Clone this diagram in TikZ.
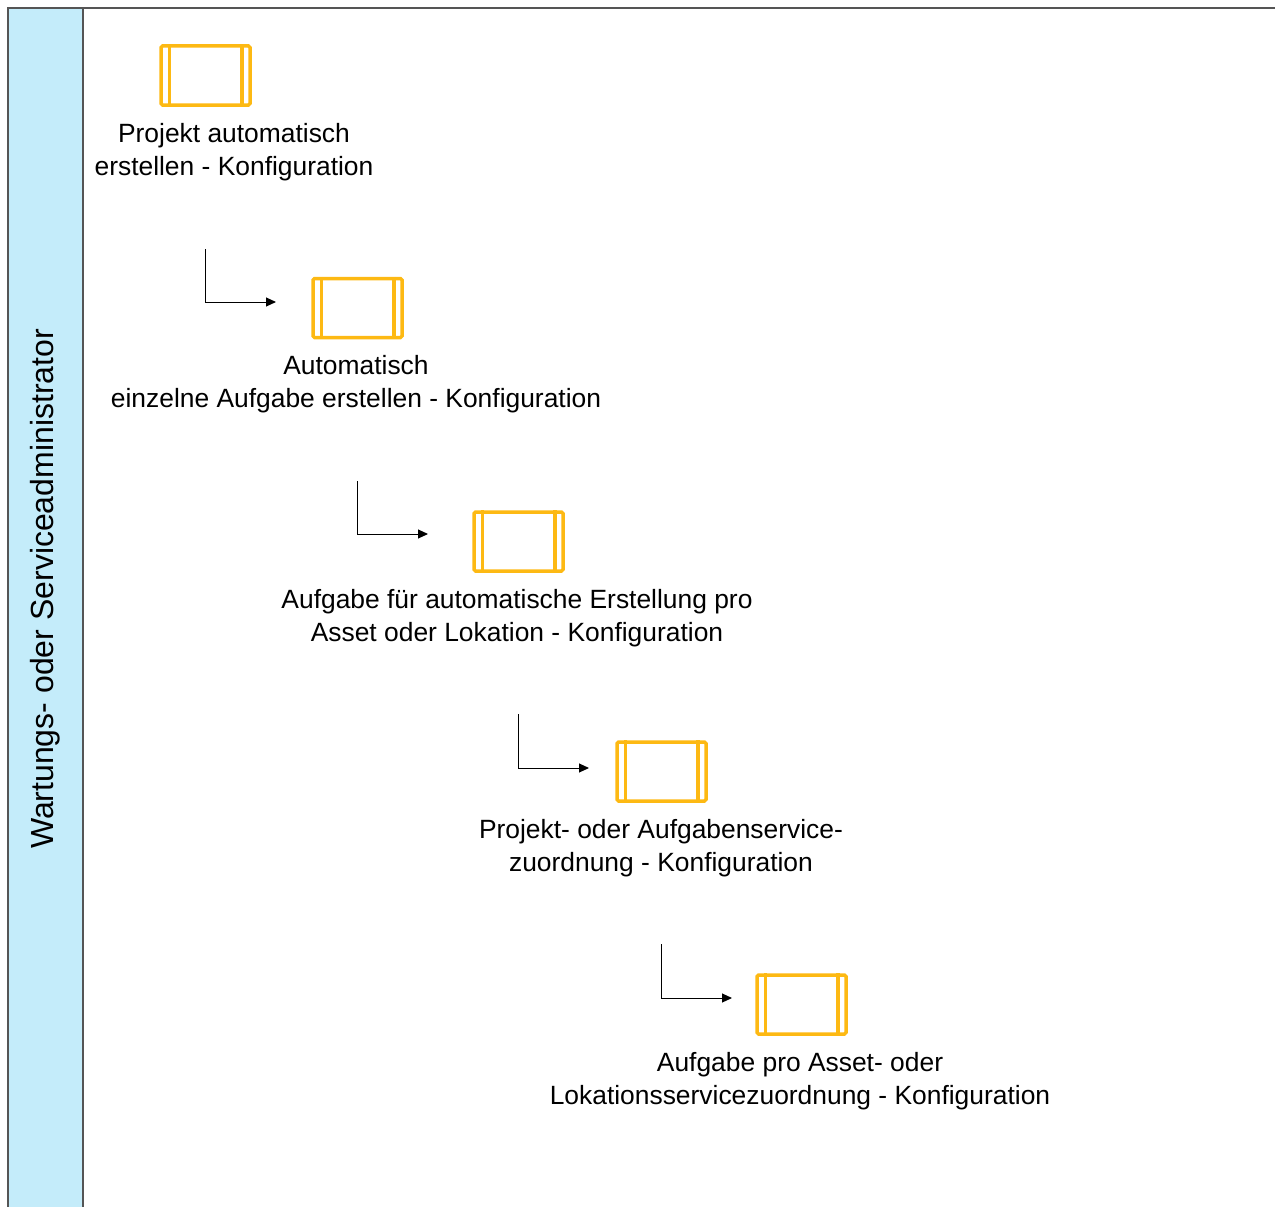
\documentclass[tikz,border=0pt]{standalone}
\usepackage{fontspec}
\setmainfont{Liberation Sans}
\usetikzlibrary{arrows.meta}
\definecolor{lanefill}{RGB}{196,236,250}
\definecolor{laneline}{RGB}{85,85,85}
\definecolor{taskorange}{RGB}{253,185,19}
\tikzset{
  taskbox/.style={draw=taskorange, line width=3.5pt, rounded corners=1.5pt,
    minimum width=89pt, minimum height=59pt, inner sep=0pt},
  tasklabel/.style={align=center, font=\fontsize{26.4}{33}\selectfont, inner sep=0pt},
  lanelabel/.style={font=\fontsize{32}{38}\selectfont, inner sep=0pt, rotate=90},
  flow/.style={draw=black, line width=1pt, -{Triangle[length=10pt,width=9pt]}},
}
\newcommand{\taskmarks}[1]{%
  \draw[taskorange, line width=3.5pt]
    ([xshift=10pt]#1.north west) -- ([xshift=10pt]#1.south west)
    ([xshift=-10pt]#1.north east) -- ([xshift=-10pt]#1.south east);}
\begin{document}
\begin{tikzpicture}[x=1pt,y=-1pt]
\useasboundingbox (0,0) rectangle (1275,1207);
% swimlane
\fill[lanefill] (8,8) rectangle (83,1210);
\draw[laneline, line width=1.2pt] (8,1210) -- (8,8) -- (1276,8);
\draw[laneline, line width=1.2pt] (83,8) -- (83,1210);
\node[lanelabel] (lane) at (45,589) {Wartungs- oder Serviceadministrator};
% tasks
\node[taskbox] (t1) at (205.5,75.5) {};
\node[taskbox] (t2) at (357.5,308) {};
\node[taskbox] (t3) at (518.5,541.5) {};
\node[taskbox] (t4) at (661.5,771.5) {};
\node[taskbox] (t5) at (801.5,1004.5) {};
\taskmarks{t1}\taskmarks{t2}\taskmarks{t3}\taskmarks{t4}\taskmarks{t5}
% labels
\node[tasklabel] (l1) at (234,152) {Projekt automatisch\\erstellen - Konfiguration};
\node[tasklabel] (l2) at (356,384) {Automatisch\\einzelne Aufgabe erstellen - Konfiguration};
\node[tasklabel] (l3) at (517,618) {Aufgabe für automatische Erstellung pro\\Asset oder Lokation - Konfiguration};
\node[tasklabel] (l4) at (661,848) {Projekt- oder Aufgabenservice-\\zuordnung - Konfiguration};
\node[tasklabel] (l5) at (800,1081) {Aufgabe pro Asset- oder\\Lokationsservicezuordnung - Konfiguration};
% flow connectors
\coordinate (a1s) at (205,249); \coordinate (a1e) at (276,302);
\coordinate (a2s) at (357,481); \coordinate (a2e) at (428,534);
\coordinate (a3s) at (518,714); \coordinate (a3e) at (589,768);
\coordinate (a4s) at (661,944); \coordinate (a4e) at (732,998);
\draw[flow] (a1s) |- (a1e);
\draw[flow] (a2s) |- (a2e);
\draw[flow] (a3s) |- (a3e);
\draw[flow] (a4s) |- (a4e);
\end{tikzpicture}
\end{document}
